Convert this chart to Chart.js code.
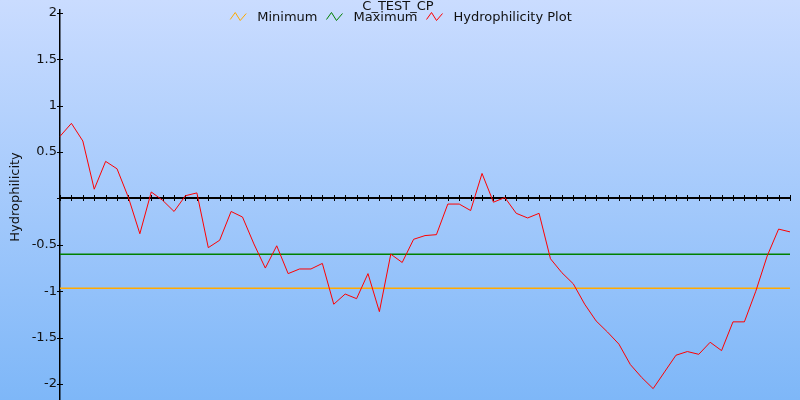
<!DOCTYPE html>
<html>
<head>
<meta charset="utf-8">
<title>C_TEST_CP</title>
<script src="https://cdn.jsdelivr.net/npm/chart.js@4.4.1/dist/chart.umd.min.js"></script>
<style>
  html, body { margin: 0; padding: 0; }
  #wrap { width: 800px; height: 400px; position: relative; }
</style>
</head>
<body>
<div id="wrap"><canvas id="chart"></canvas></div>
<script>
const chartTitle = "C_TEST_CP";
const yAxisTitle = "Hydrophilicity";

// hydrophilicity per residue window
const hydrophilicity = [
  0.67, 0.81, 0.62, 0.10, 0.40, 0.32, 0.01, -0.38, 0.07, -0.02,
  -0.14, 0.03, 0.06, -0.53, -0.45, -0.14, -0.20, -0.49, -0.75, -0.51,
  -0.81, -0.76, -0.76, -0.70, -1.14, -1.03, -1.08, -0.81, -1.22, -0.60,
  -0.69, -0.44, -0.40, -0.39, -0.06, -0.06, -0.13, 0.27, -0.04, 0.01,
  -0.16, -0.21, -0.16, -0.65, -0.80, -0.92, -1.14, -1.32, -1.44, -1.57,
  -1.79, -1.93, -2.05, -1.87, -1.69, -1.65, -1.68, -1.55, -1.64, -1.33,
  -1.33, -1.00, -0.62, -0.33, -0.36
];
const minimumLevel = -0.967;
const maximumLevel = -0.6;
const yTickValues = [-2, -1.5, -1, -0.5, 0, 0.5, 1, 1.5, 2];

const positions = hydrophilicity.map((_, i) => String(i + 1));
const firstPos = positions[0];
const lastPos = positions[positions.length - 1];

const FONT = "13px 'DejaVu Sans'";

const decorPlugin = {
  id: "decor",
  beforeDraw(chart) {
    const { ctx, width, height } = chart;
    const grad = ctx.createLinearGradient(0, 0, 0, height);
    grad.addColorStop(0, "#cadcff");
    grad.addColorStop(1, "#7eb7f8");
    ctx.save();
    ctx.fillStyle = grad;
    ctx.fillRect(0, 0, width, height);
    ctx.restore();
  },
  beforeDatasetsDraw(chart) {
    const { ctx, chartArea, scales } = chart;
    const x = scales.x;
    const y = scales.y;
    const y0 = Math.round(y.getPixelForValue(0));
    ctx.save();
    ctx.strokeStyle = "#000";
    // zero axis with a tick at every position
    ctx.lineWidth = 2;
    ctx.beginPath();
    ctx.moveTo(chartArea.left, y0);
    ctx.lineTo(chartArea.right, y0);
    ctx.stroke();
    ctx.lineWidth = 1;
    ctx.beginPath();
    positions.forEach((p, i) => {
      const px = Math.round(x.getPixelForValue(i)) + 0.5;
      ctx.moveTo(px, y0 - 3);
      ctx.lineTo(px, y0 + 3);
    });
    // y tick marks crossing the axis
    yTickValues.forEach((v) => {
      const py = Math.round(y.getPixelForValue(v)) + 0.5;
      ctx.moveTo(chartArea.left - 3, py);
      ctx.lineTo(chartArea.left + 3, py);
    });
    ctx.stroke();
    ctx.restore();
  },
  afterDraw(chart) {
    const { ctx } = chart;
    ctx.save();
    ctx.font = FONT;
    ctx.fillStyle = "#111";
    ctx.textAlign = "center";
    ctx.textBaseline = "alphabetic";
    ctx.fillText(chartTitle, 398, 9.5);

    // y axis title
    ctx.save();
    ctx.translate(16, 197);
    ctx.rotate(-Math.PI / 2);
    ctx.textBaseline = "middle";
    ctx.fillText(yAxisTitle, 0, 0);
    ctx.restore();

    // legend with zigzag icons
    const items = chart.data.datasets.map((ds) => ({ label: ds.label, color: ds.borderColor }));
    ctx.textAlign = "left";
    ctx.textBaseline = "middle";
    let total = 0;
    items.forEach((it) => {
      it.w = ctx.measureText(it.label).width;
      total += 27 + it.w;
    });
    total += 9 * (items.length - 1);
    let cx = 401 - total / 2;
    items.forEach((it) => {
      ctx.strokeStyle = it.color;
      ctx.lineWidth = 1;
      ctx.beginPath();
      ctx.moveTo(cx, 19.5);
      ctx.lineTo(cx + 5, 12.5);
      ctx.lineTo(cx + 10, 20.5);
      ctx.lineTo(cx + 16, 13.5);
      ctx.stroke();
      ctx.fillStyle = "#111";
      ctx.fillText(it.label, cx + 27, 17.5);
      cx += 27 + it.w + 9;
    });
    ctx.restore();
  }
};

new Chart(document.getElementById("chart"), {
  type: "line",
  data: {
    labels: positions,
    datasets: [
      {
        label: "Minimum",
        data: [{ x: firstPos, y: minimumLevel }, { x: lastPos, y: minimumLevel }],
        borderColor: "#ffaa00",
        borderWidth: 1.5,
        pointRadius: 0,
        order: 2
      },
      {
        label: "Maximum",
        data: [{ x: firstPos, y: maximumLevel }, { x: lastPos, y: maximumLevel }],
        borderColor: "#008000",
        borderWidth: 1.5,
        pointRadius: 0,
        order: 1
      },
      {
        label: "Hydrophilicity Plot",
        data: hydrophilicity,
        borderColor: "#ff0000",
        borderWidth: 1,
        pointRadius: 0,
        tension: 0,
        order: 0
      }
    ]
  },
  options: {
    responsive: true,
    maintainAspectRatio: false,
    animation: false,
    layout: { padding: { top: 10, right: 10, bottom: 0, left: 0 } },
    plugins: {
      legend: { display: false },
      title: { display: false },
      tooltip: { enabled: false }
    },
    scales: {
      x: {
        type: "category",
        display: false,
        offset: false
      },
      y: {
        min: -2.1725,
        max: 2.032,
        afterFit: (scale) => {
          scale.width = 60;
          scale.paddingTop = 0;
          scale.paddingBottom = 0;
        },
        afterBuildTicks: (scale) => { scale.ticks = yTickValues.map((v) => ({ value: v })); },
        grid: { display: false, drawTicks: false },
        border: { display: true, color: "#000", width: 1.5 },
        ticks: {
          padding: 3,
          color: "#111",
          font: { family: "'DejaVu Sans'", size: 13 },
          callback: (v) => (v === 0 ? "" : String(v))
        }
      }
    }
  },
  plugins: [decorPlugin]
});
</script>
</body>
</html>
